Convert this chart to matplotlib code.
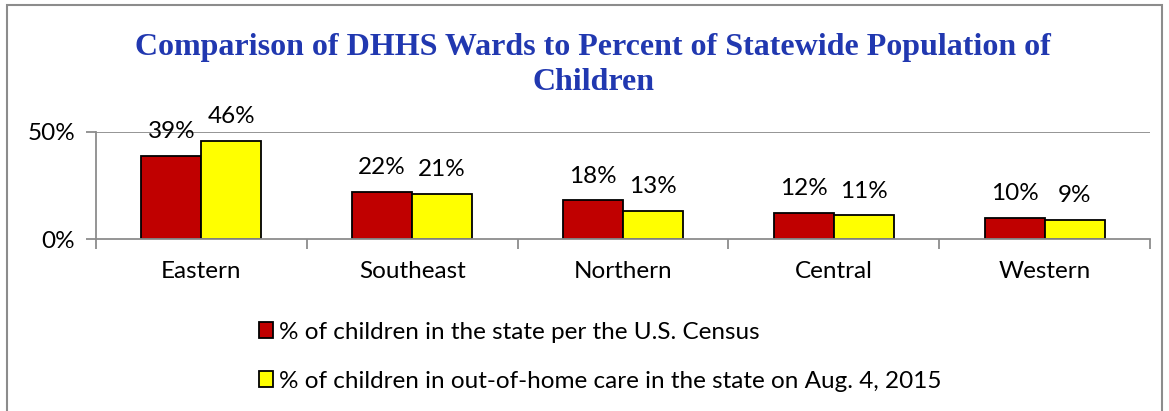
import numpy as np
import matplotlib.pyplot as plt
from matplotlib.patches import Rectangle

regions = ['Eastern', 'Southeast', 'Northern', 'Central', 'Western']
census = [39, 22, 18, 12, 10]
care = [46, 21, 13, 11, 9]
series_names = ['% of children in the state per the U.S. Census',
                '% of children in out-of-home care in the state on Aug. 4, 2015']
title = 'Comparison of DHHS Wards to Percent of Statewide Population of\nChildren'

plt.rcParams['font.family'] = ['Lato', 'DejaVu Sans']

fig = plt.figure(figsize=(11.69, 4.11), dpi=100)
ax = fig.add_axes([96 / 1169, 1 - 239 / 411, (1150 - 96) / 1169, (239 - 132) / 411])

# outer frame of the chart
fig.patches.append(Rectangle((7 / 1169, -0.01), (1162 - 7) / 1169, 1 - 5 / 411 + 0.01,
                             transform=fig.transFigure, fill=False,
                             edgecolor='#8c8c8c', linewidth=1.5))

x = np.arange(len(regions))
w = 0.285
b1 = ax.bar(x - w / 2, census, width=w, color='#C00000', edgecolor='black',
            linewidth=1.3, label=series_names[0], zorder=3)
b2 = ax.bar(x + w / 2, care, width=w, color='#FFFF00', edgecolor='black',
            linewidth=1.3, label=series_names[1], zorder=3)

for bars, vals in [(b1, census), (b2, care)]:
    for r, v in zip(bars, vals):
        ax.annotate('%d%%' % v, (r.get_x() + r.get_width() / 2, v),
                    xytext=(0, 10), textcoords='offset points',
                    ha='center', va='bottom', fontsize=17.5, annotation_clip=False)

ax.set_xlim(-0.5, len(regions) - 0.5)
ax.set_ylim(0, 50)
ax.set_yticks([0, 50])
ax.set_yticklabels(['0%', '50%'], fontsize=17.5)
ax.set_xticks(x)
ax.set_xticklabels(regions, fontsize=17.5)
ax.set_xticks(np.arange(len(regions) + 1) - 0.5, minor=True)
ax.tick_params(axis='x', which='major', length=0, pad=16)
ax.tick_params(axis='x', which='minor', length=7, color='#8c8c8c', width=1.3)
ax.tick_params(axis='y', length=7, color='#8c8c8c', width=1.3, pad=8)
ax.axhline(50, color='#8c8c8c', linewidth=1.3, zorder=1)

for s in ['top', 'right']:
    ax.spines[s].set_visible(False)
for s in ['left', 'bottom']:
    ax.spines[s].set_color('#8c8c8c')
    ax.spines[s].set_linewidth(1.3)
ax.spines['bottom'].set_zorder(4)

fig.text(593 / 1169, 1 - 65 / 411, title, ha='center', va='center',
         fontsize=23, fontweight='bold', color='#2138B0',
         family=['Liberation Serif'], linespacing=1.25)

fig.legend(handles=[b1, b2], loc='upper left', bbox_to_anchor=(249 / 1169, 1 - 312 / 411),
           frameon=False, fontsize=17.5, handlelength=0.6, handleheight=0.6,
           handletextpad=0.25, labelspacing=1.15, borderaxespad=0)

fig.savefig('out.png', dpi=100)
